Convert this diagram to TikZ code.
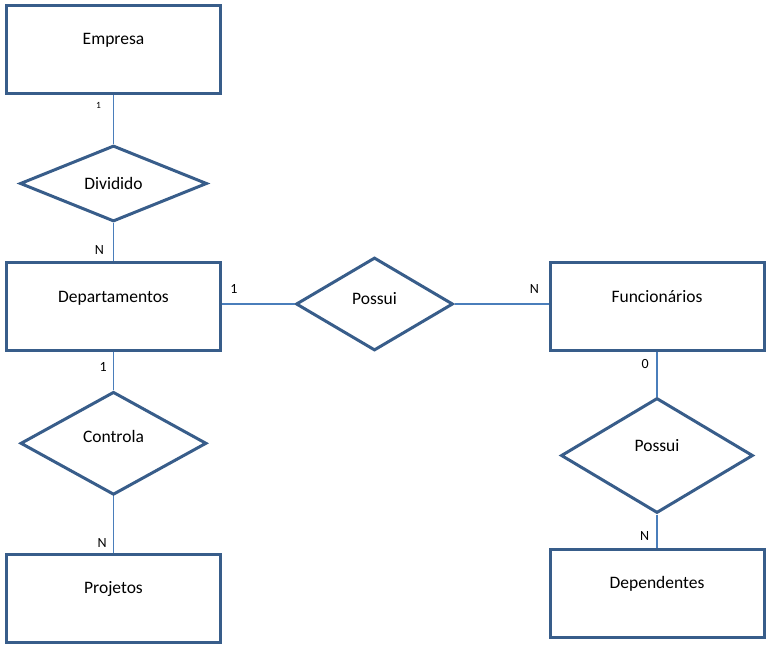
\documentclass[tikz,border=0pt]{standalone}
\usepackage{fontspec}
\setmainfont{Carlito}
\usetikzlibrary{shapes.geometric}
\definecolor{erborder}{HTML}{385D8A}
\definecolor{erline}{HTML}{4A7EBB}

\begin{document}
\begin{tikzpicture}[x=1pt,y=-1pt,font=\fontsize{17.5}{20}\selectfont]
  \tikzstyle{entity}=[draw=erborder,line width=3pt,rectangle,minimum width=214pt,
                      minimum height=88pt,inner sep=0pt,text height=11pt,text depth=20pt]
  \tikzstyle{relation}=[draw=erborder,line width=3pt,diamond,aspect=2.5,
                        inner sep=0pt,text height=11pt]
  \tikzstyle{link}=[draw=erline,line width=1.1pt]
  \tikzstyle{card}=[font=\fontsize{14}{16}\selectfont,inner sep=0pt]

  \useasboundingbox (0,0) rectangle (775,650);

  \node[entity] (emp) at (113.5,49.5) {Empresa};
  \node[relation,minimum width=187pt,minimum height=76pt,text depth=0pt] (div) at (113.5,183.5) {Dividido};
  \node[entity] (dep) at (113.5,306.5) {Departamentos};
  \node[relation,minimum width=186pt,minimum height=103pt,text depth=13pt] (ctl) at (113.5,443.3) {Controla};
  \node[entity] (prj) at (113.5,598) {Projetos};
  \node[relation,minimum width=157pt,minimum height=93pt,text depth=10pt] (possm) at (374.5,304) {Possui};
  \node[entity] (fun) at (657,306.5) {Funcionários};
  \node[relation,minimum width=192pt,minimum height=115pt,text depth=19pt] (posr) at (657,455.5) {Possui};
  \node[entity] (dpd) at (657,593) {Dependentes};

  \draw[link] (emp) -- node[card,pos=0.22,anchor=east,xshift=-12pt,font=\fontsize{9.5}{11}\selectfont] (c1) {1} (div)
              (div) -- node[card,pos=0.71,anchor=east,xshift=-9pt] (c2) {N} (dep)
              (dep) -- node[card,pos=0.39,anchor=east,xshift=-6.3pt] (c3) {1} (ctl)
              (ctl) -- node[card,pos=0.83,anchor=east,xshift=-6.3pt] (c4) {N} (prj)
              (possm -| dep.east) -- node[card,pos=0.165,anchor=south,yshift=9.6pt] (c5) {1} (possm.west)
              (possm.east) -- node[card,pos=0.85,anchor=south,yshift=9.5pt] (c6) {N} (possm -| fun.west)
              (fun) -- node[card,pos=0.27,anchor=east,xshift=-7.8pt] (c7) {0} (posr)
              (posr) -- node[card,pos=0.65,anchor=east,xshift=-7.3pt] (c8) {N} (dpd);
\end{tikzpicture}
\end{document}
